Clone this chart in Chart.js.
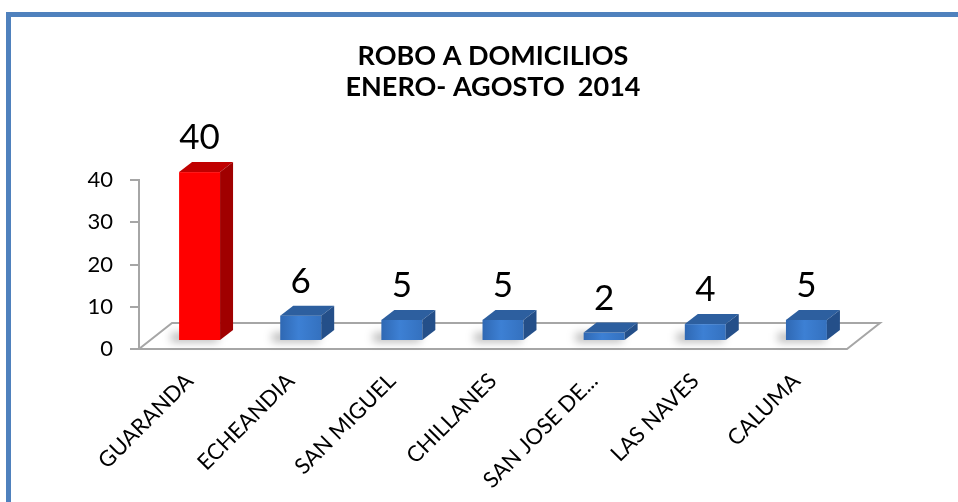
<!DOCTYPE html>
<html>
<head>
<meta charset="utf-8">
<script src="https://cdn.jsdelivr.net/npm/chart.js@4.4.1/dist/chart.umd.min.js"></script>
<style>
  html, body { margin: 0; padding: 0; background: #fff; overflow: hidden; }
  #wrap { position: relative; width: 958px; height: 502px; }
  #marco { position: absolute; left: 6px; top: 12px; width: 1000px; height: 600px;
           border-left: 5px solid #4f81bd; border-top: 5px solid #4f81bd; }
  #myChart { position: absolute; left: 0; top: 0; }
</style>
</head>
<body>
<div id="wrap">
  <div id="marco"></div>
  <canvas id="myChart" width="958" height="502"></canvas>
</div>
<script>
// datos
const municipios = ["GUARANDA", "ECHEANDIA", "SAN MIGUEL", "CHILLANES", "SAN JOSE DE...", "LAS NAVES", "CALUMA"];
const robos = [40, 6, 5, 5, 2, 4, 5];
const titulo = ["ROBO A DOMICILIOS", "ENERO- AGOSTO  2014"];
const yMax = 40;
const yPaso = 10;

// efecto 3D: piso, desplazamiento de las barras y profundidad
const piso = { dx: 33, dy: -26 };
const desplazo = { dx: 10, dy: -8 };
const fondo = { dx: 13, dy: -10 };

const colores = robos.map((v, i) => i === 0 ? "rojo" : "azul");

const barras3d = {
  id: "barras3d",
  beforeDatasetsDraw(chart) {
    const { ctx, chartArea: a, scales: { y } } = chart;
    const y0 = y.getPixelForValue(0);
    ctx.save();
    ctx.strokeStyle = "#a6a6a6";
    ctx.lineWidth = 2;
    ctx.beginPath();
    ctx.moveTo(a.left, y0);
    ctx.lineTo(a.right, y0);
    ctx.lineTo(a.right + piso.dx, y0 + piso.dy);
    ctx.lineTo(a.left + piso.dx, y0 + piso.dy);
    ctx.closePath();
    ctx.stroke();
    ctx.restore();
  },
  afterDatasetsDraw(chart) {
    const { ctx } = chart;
    const meta = chart.getDatasetMeta(0);
    meta.data.forEach((bar, i) => {
      const p = bar.getProps(["x", "y", "base", "width"], true);
      const l = p.x - p.width / 2 + desplazo.dx;
      const r = p.x + p.width / 2 + desplazo.dx;
      const t = p.y + desplazo.dy;
      const b = p.base + desplazo.dy;
      const rojo = colores[i] === "rojo";

      ctx.save();
      // sombra en el piso
      ctx.filter = "blur(4px)";
      ctx.fillStyle = "rgba(0,0,0,0.28)";
      ctx.fillRect(l - 8, b - 7, p.width + 6, 9);
      ctx.filter = "none";

      // cara frontal
      if (rojo) {
        ctx.fillStyle = "#ff0000";
      } else {
        const g = ctx.createLinearGradient(l, 0, r, 0);
        g.addColorStop(0, "#2f68b3");
        g.addColorStop(0.45, "#3d80d4");
        g.addColorStop(1, "#3471bf");
        ctx.fillStyle = g;
      }
      ctx.fillRect(l, t, r - l, b - t);

      // tapa
      ctx.fillStyle = rojo ? "#c00000" : "#2d5f9f";
      ctx.beginPath();
      ctx.moveTo(l, t);
      ctx.lineTo(r, t);
      ctx.lineTo(r + fondo.dx, t + fondo.dy);
      ctx.lineTo(l + fondo.dx, t + fondo.dy);
      ctx.closePath();
      ctx.fill();

      // lado
      ctx.fillStyle = rojo ? "#a00000" : "#244f89";
      ctx.beginPath();
      ctx.moveTo(r, t);
      ctx.lineTo(r + fondo.dx, t + fondo.dy);
      ctx.lineTo(r + fondo.dx, b + fondo.dy);
      ctx.lineTo(r, b);
      ctx.closePath();
      ctx.fill();

      // etiqueta
      ctx.fillStyle = "#000";
      ctx.font = "35px Lato";
      ctx.textAlign = "center";
      ctx.textBaseline = "alphabetic";
      ctx.fillText(String(robos[i]), (l + r) / 2, t + fondo.dy - 13);
      ctx.restore();
    });
  }
};

new Chart(document.getElementById("myChart"), {
  type: "bar",
  data: {
    labels: municipios,
    datasets: [{
      data: robos,
      backgroundColor: "rgba(0,0,0,0)",
      borderWidth: 0,
      barPercentage: 0.405,
      categoryPercentage: 1
    }]
  },
  options: {
    responsive: false,
    animation: false,
    layout: { padding: { left: 24, right: 111, top: 0, bottom: 0 } },
    plugins: {
      legend: { display: false },
      tooltip: { enabled: false },
      title: {
        display: true,
        text: titulo,
        fullSize: false,
        color: "#000",
        font: { family: "Lato", size: 27, weight: "bold", lineHeight: 1.15 },
        padding: { top: 41, bottom: 77 }
      }
    },
    scales: {
      x: {
        afterFit: (s) => { s.height = 153; },
        grid: { display: false, drawTicks: false },
        border: { display: false },
        ticks: {
          color: "#000",
          font: { family: "Lato", size: 22 },
          minRotation: 45,
          maxRotation: 45,
          padding: 19,
          autoSkip: false
        }
      },
      y: {
        min: 0,
        max: yMax,
        afterFit: (s) => { s.width = 115; },
        border: { display: true, color: "#a6a6a6", width: 2 },
        grid: { drawOnChartArea: false, drawTicks: true, tickLength: 9, color: "#a6a6a6", lineWidth: 2 },
        ticks: {
          stepSize: yPaso,
          color: "#000",
          font: { family: "Lato", size: 22 },
          padding: 17
        }
      }
    }
  },
  plugins: [barras3d]
});
</script>
</body>
</html>
